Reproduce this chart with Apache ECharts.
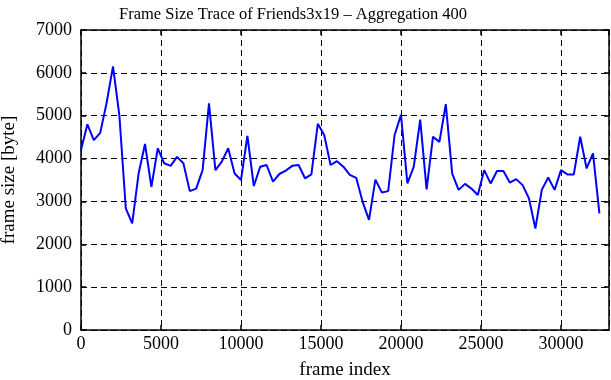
<!DOCTYPE html>
<html>
<head>
<meta charset="utf-8">
<script src="https://cdn.jsdelivr.net/npm/echarts@6/dist/echarts.min.js"></script>
<style>
  html, body { margin: 0; padding: 0; background: #fff; }
  #chart { width: 611px; height: 380px; }
</style>
</head>
<body>
<div id="chart"></div>
<script>
// frame index step = aggregation window
const step = 400
// aggregated frame sizes
const frameSizes = [
  4200, 4800, 4430, 4600, 5300, 6150, 5000, 2840, 2490, 3650,
  4340, 3340, 4240, 3890, 3830, 4040, 3890, 3240, 3300, 3730,
  5290, 3730, 3930, 4240, 3650, 3500, 4530, 3360, 3810, 3850,
  3460, 3640, 3720, 3830, 3850, 3540, 3630, 4810, 4550, 3850,
  3940, 3810, 3620, 3550, 2990, 2570, 3510, 3210, 3240, 4550,
  5020, 3420, 3810, 4910, 3280, 4510, 4390, 5270, 3650, 3270,
  3410, 3300, 3150, 3730, 3420, 3710, 3710, 3440, 3520, 3380,
  3070, 2370, 3270, 3560, 3270, 3730, 3630, 3630, 4510, 3770,
  4120, 2720
]
const xTicks = [0, 5000, 10000, 15000, 20000, 25000, 30000]
const yTicks = [0, 1000, 2000, 3000, 4000, 5000, 6000, 7000]

const points = frameSizes.map((v, i) => [i * step, v])

const font = 'Liberation Serif'
const chart = echarts.init(document.getElementById('chart'))

const dashed = { show: true, lineStyle: { color: '#000', type: [6, 4], width: 1 } }
const frame = { show: true, onZero: false, lineStyle: { color: '#000', width: 1.5 } }
const tick = { show: true, inside: true, length: 5, lineStyle: { color: '#000', width: 1.5 } }

chart.setOption({
  animation: false,
  backgroundColor: '#fff',
  title: {
    text: 'Frame Size Trace of Friends3x19 \u2013 Aggregation 400',
    left: 114,
    top: 1,
    textStyle: { fontFamily: font, fontSize: 16.5, fontWeight: 'normal', color: '#000' }
  },
  grid: { left: 81, right: 2, top: 30, bottom: 50, outerBoundsMode: 'none', containLabel: false },
  xAxis: [{
    type: 'value',
    min: 0,
    max: 33000,
    interval: 5000,
    axisLine: frame,
    axisTick: tick,
    splitLine: dashed,
    axisLabel: {
      fontFamily: font, fontSize: 18, color: '#000', margin: 5,
      showMaxLabel: false,
      formatter: v => xTicks.includes(v) ? String(v) : ''
    },
    name: 'frame index',
    nameLocation: 'middle',
    nameGap: 31,
    nameTextStyle: { fontFamily: font, fontSize: 19, color: '#000' }
  }, {
    type: 'value',
    position: 'top',
    min: 0,
    max: 33000,
    interval: 5000,
    axisLine: frame,
    axisTick: tick,
    axisLabel: { show: false },
    splitLine: { show: false }
  }],
  yAxis: [{
    type: 'value',
    min: 0,
    max: 7000,
    interval: 1000,
    axisLine: frame,
    axisTick: tick,
    splitLine: dashed,
    axisLabel: {
      fontFamily: font, fontSize: 18, color: '#000', margin: 9,
      formatter: v => yTicks.includes(v) ? String(v) : ''
    },
    name: 'frame size [byte]',
    nameLocation: 'middle',
    nameGap: 62,
    nameTextStyle: { fontFamily: font, fontSize: 19, color: '#000' }
  }, {
    type: 'value',
    position: 'right',
    min: 0,
    max: 7000,
    interval: 1000,
    axisLine: frame,
    axisTick: tick,
    axisLabel: { show: false },
    splitLine: { show: false }
  }],
  series: [{
    type: 'line',
    data: points,
    showSymbol: false,
    lineStyle: { color: '#0000ff', width: 2 },
    itemStyle: { color: '#0000ff' }
  }]
})
</script>
</body>
</html>
